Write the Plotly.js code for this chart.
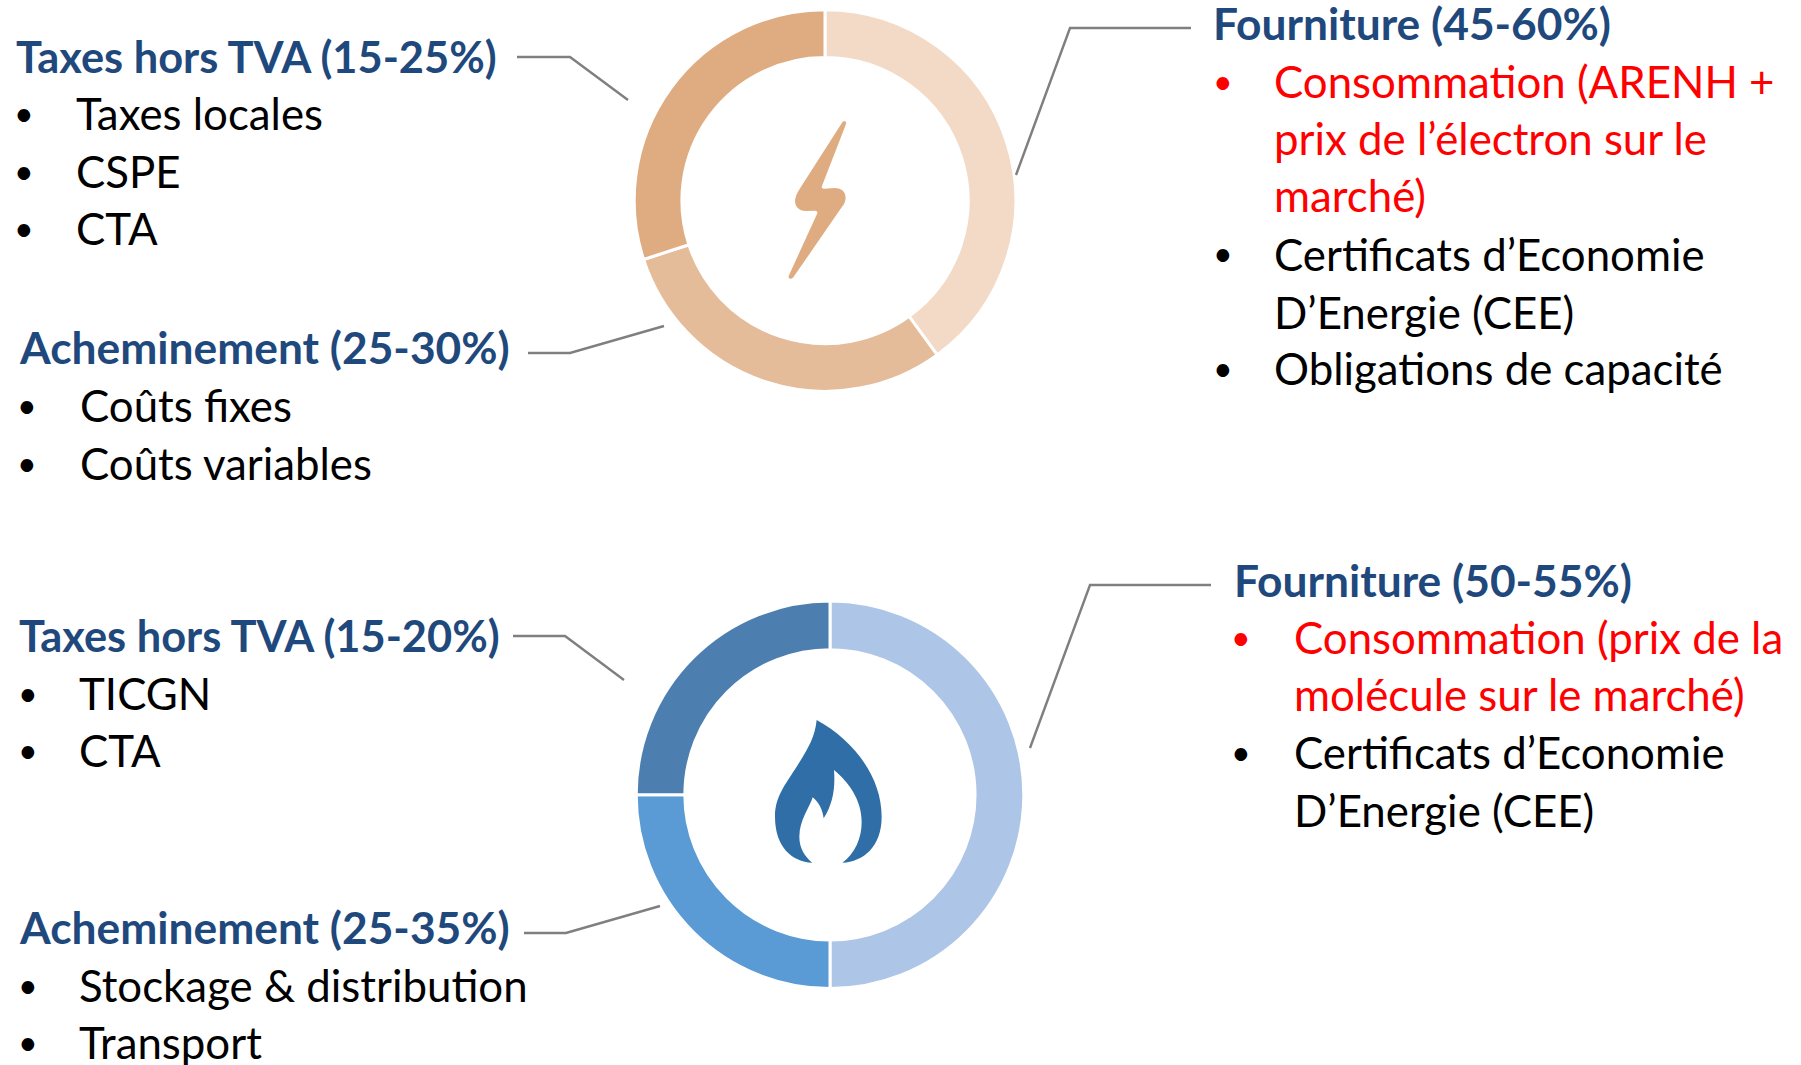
<!DOCTYPE html>
<html><head><meta charset="utf-8">
<script src="https://cdn.plot.ly/plotly-3.0.1.min.js"></script>
<style>html,body{margin:0;padding:0;background:#fff}</style></head>
<body><div id="chart" style="width:1801px;height:1065px"></div>
<script>
const W=1801,H=1065;
const categories=['Fourniture','Acheminement','Taxes hors TVA'];
const electricityShare=[40,30,30];
const gasShare=[50,25,25];
const electricityColors=['#F2DAC7','#E5BC9A','#DFAC82'];
const gasColors=['#ADC5E6','#5B9BD5','#4C7FB0'];

const elecFourniture=['Fourniture (45-60%)','Consommation (ARENH +','prix de l’électron sur le','marché)','Certificats d’Economie','D’Energie (CEE)','Obligations de capacité'];
const elecAcheminement=['Acheminement (25-30%)','Coûts fixes','Coûts variables'];
const elecTaxes=['Taxes hors TVA (15-25%)','Taxes locales','CSPE','CTA'];
const gasFourniture=['Fourniture (50-55%)','Consommation (prix de la','molécule sur le marché)','Certificats d’Economie','D’Energie (CEE)'];
const gasAcheminement=['Acheminement (25-35%)','Stockage & distribution','Transport'];
const gasTaxes=['Taxes hors TVA (15-20%)','TICGN','CTA'];

const FONT='Lato, "Open Sans", sans-serif';
const SIZE=43.8, BUL=34;
const NAVY='#1F497D';
const px=x=>x/W, py=y=>1-y/H;
const ann=[];
function txt(x,base,s,color,bold,size){
  ann.push({xref:'paper',yref:'paper',x:px(x),y:py(base),xanchor:'left',yanchor:'bottom',yshift:-0.25*size,
    text:bold?'<b>'+s+'</b>':s,showarrow:false,borderpad:0,font:{family:FONT,size,color}});
}
function block(lines,hx,bulletX,itemX,bases,redLines,bulletLines,headSize){
  txt(hx,bases[0],lines[0],NAVY,true,headSize);
  for(let i=1;i<lines.length;i++){
    const c=redLines.includes(i)?'#FF0000':'#000000';
    txt(itemX,bases[i],lines[i],c,false,SIZE);
    if(bulletLines.includes(i)) txt(bulletX,bases[i]-4,'•',c,false,BUL);
  }
}
block(elecTaxes,15,12.6,75,[72.5,129.5,187.5,244.5],[],[1,2,3],43.4);
block(elecAcheminement,18,16,78.5,[363,421.5,479],[],[1,2],44.3);
block(elecFourniture,1212,1212,1273,[39,97,154.5,211.5,270,328,384],[1,2,3],[1,4,6],44.3);
block(gasTaxes,18,17,78,[651.5,709,766],[],[1,2],43.4);
block(gasAcheminement,18,17,78,[943,1001,1058],[],[1,2],44.3);
block(gasFourniture,1233,1230,1293,[596,653,710,768,826],[1,2],[1,3],44.3);

function poly(pts){return {type:'path',xref:'paper',yref:'paper',path:'M'+pts.map(p=>px(p[0])+','+py(p[1])).join(' L'),line:{color:'#7F7F7F',width:2.4},fillcolor:'rgba(0,0,0,0)',layer:'above'};}
function iconPath(cmds,ox,oy){
  return cmds.map(c=>{
    const n=c.slice(1).map((v,i)=>i%2==0?px(ox+v/3):py(oy+v/3));
    let s=c[0];for(let i=0;i<n.length;i+=2)s+=' '+n[i]+','+n[i+1];return s;
  }).join(' ')+' Z';
}
const bolt=[['M',727,367],['Q',735,358,739,370],['L',665,560],['Q',664,566,672,566],['L',705,564],['Q',737,565,737,595],['Q',735,612,725,622],['L',580,832],['Q',570,842,565,830],['L',652,640],['Q',654,632,645,632],['L',618,633],['Q',585,632,585,600],['Q',587,585,597,570]];
const flame=[['M',650,390],['C',760,450,845,560,845,680],['C',845,770,790,815,727,818],['C',765,790,785,745,785,695],['C',785,630,745,575,702,540],['C',706,590,700,640,671,685],['C',668,660,657,637,638,622],['C',630,650,598,690,598,740],['C',598,775,615,800,637,818],['C',575,815,525,770,525,680],['C',525,620,555,585,590,530],['C',625,475,645,440,650,390]];

const shapes=[
  poly([[1016,175],[1070,28],[1191,28]]),
  poly([[517,57],[570,57],[628,100]]),
  poly([[528,353],[570,353],[664,326]]),
  poly([[1030,748],[1090,585],[1211,585]]),
  poly([[513,636],[565,636],[624,680]]),
  poly([[524,933],[566,933],[660,906]]),
  {type:'path',xref:'paper',yref:'paper',path:iconPath(bolt,600,0),fillcolor:'#DFAC82',line:{width:0}},
  {type:'path',xref:'paper',yref:'paper',path:iconPath(flame,600,590),fillcolor:'#2F6EA6',line:{width:0}}
];
function donut(vals,cols,cx,cy,R,hole){
  return {type:'pie',labels:categories,values:vals,sort:false,direction:'clockwise',rotation:0,hole,
    textinfo:'none',hoverinfo:'label+value',marker:{colors:cols,line:{color:'#FFFFFF',width:3}},
    domain:{x:[px(cx-R),px(cx+R)],y:[py(cy+R),py(cy-R)]},showlegend:false};
}
Plotly.newPlot('chart',[
  donut(electricityShare,electricityColors,825,200.5,190.8,0.75),
  donut(gasShare,gasColors,830,794.8,193.8,0.749)
],{width:W,height:H,margin:{l:0,r:0,t:0,b:0},paper_bgcolor:'#fff',plot_bgcolor:'#fff',showlegend:false,annotations:ann,shapes},{displayModeBar:false,staticPlot:true});
</script></body></html>
